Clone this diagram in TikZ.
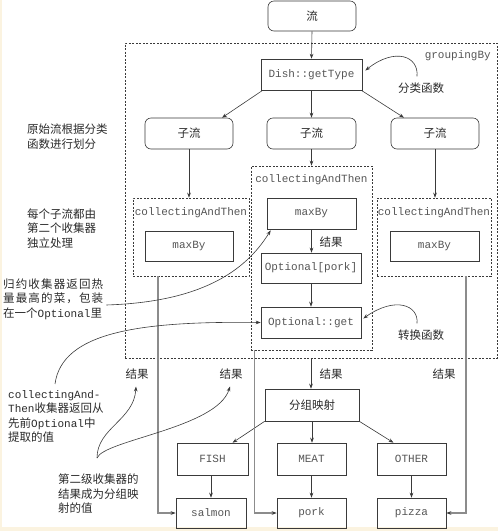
\documentclass[tikz,border=0pt]{standalone}
\usepackage{fontspec}
\setmainfont{Noto Sans CJK SC}
\setmonofont{Liberation Mono}
\usetikzlibrary{arrows.meta,calc}
\definecolor{linec}{HTML}{3A3A3A}
\definecolor{monoc}{HTML}{555555}
\definecolor{txtc}{HTML}{2A2A2A}
\definecolor{creamc}{HTML}{FBF3E0}
\definecolor{grayl}{HTML}{8C8C8C}
\newcommand\monof{\fontsize{11}{13}\selectfont\ttfamily}
\newcommand\cjkf{\fontsize{11.5}{14.6}\selectfont}
\tikzset{
  sqbox/.style={draw=linec, line width=0.6pt, inner sep=0pt, font=\monof, text=monoc},
  rbox/.style={sqbox, rounded corners=6pt, font=\cjkf, text=txtc},
  dbox/.style={draw=linec, dash pattern=on 2pt off 1.5pt, line width=0.6pt, inner sep=0pt},
  arr/.style={-{Stealth[length=5pt,width=3.6pt]}, draw=linec, line width=0.6pt},
  garr/.style={-{Stealth[length=5pt,width=3.6pt,color=linec]}, draw=grayl, line width=1.1pt},
  note/.style={font=\cjkf, text=txtc, align=left, inner sep=0pt},
  mlabel/.style={font=\monof, text=monoc, inner sep=0pt},
}
\begin{document}
\begin{tikzpicture}[x=1pt,y=-1pt]
\useasboundingbox (0,0) rectangle (498,531);
\fill[creamc] (0,0) rectangle (2,531);
\fill[creamc] (0,527) rectangle (498,531);

% outer groupingBy
\node[dbox, minimum width=372, minimum height=315] (grp) at (311,200.5) {};
\node[mlabel, anchor=east] (grplab) at (491,56) {groupingBy};

\node[rbox, minimum width=88, minimum height=30] (liu) at (312,16) {流};
\node[sqbox, minimum width=101, minimum height=31] (dish) at (311.5,74.5) {Dish::getType};
\node[note] (flhs) at (421,88) {分类函数};

\node[rbox, minimum width=88, minimum height=31] (zl1) at (189,133.5) {子流};
\node[rbox, minimum width=89, minimum height=31] (zl2) at (311.5,133.5) {子流};
\node[rbox, minimum width=88, minimum height=31] (zl3) at (435,133.5) {子流};

% collectingAndThen boxes
\node[dbox, minimum width=116, minimum height=78] (cat1) at (191,237) {};
\node[mlabel] (cat1lab) at (191,213) {collectingAndThen};
\node[sqbox, minimum width=88, minimum height=30] (mb1) at (189,246) {maxBy};

\node[dbox, minimum width=121, minimum height=184] (cat2) at (311.5,258) {};
\node[mlabel] (cat2lab) at (311.5,180) {collectingAndThen};
\node[sqbox, minimum width=89, minimum height=31] (mb2) at (311.5,213.5) {maxBy};
\node[note] (jg0) at (331,242) {结果};
\node[sqbox, minimum width=100, minimum height=30] (opk) at (311,268) {Optional[pork]};
\node[sqbox, minimum width=100, minimum height=31] (oget) at (311,322.5) {Optional::get};
\node[note] (zhhs) at (421,335) {转换函数};

\node[dbox, minimum width=114, minimum height=78] (cat3) at (434,237) {};
\node[mlabel] (cat3lab) at (434,213) {collectingAndThen};
\node[sqbox, minimum width=89, minimum height=30] (mb3) at (434.5,246) {maxBy};

% results
\node[note] (jg1) at (137,374) {结果};
\node[note] (jg2) at (231,374) {结果};
\node[note] (jg3) at (331,374) {结果};
\node[note] (jg4) at (444,374) {结果};

\node[sqbox, minimum width=94, minimum height=32, font=\cjkf, text=txtc] (fzys) at (312,405) {分组映射};
\node[sqbox, minimum width=71, minimum height=32] (fish) at (212.5,459) {FISH};
\node[sqbox, minimum width=69, minimum height=32] (meat) at (311.5,459) {MEAT};
\node[sqbox, minimum width=69, minimum height=32] (other) at (411.5,459) {OTHER};
\node[sqbox, minimum width=70, minimum height=30] (salmon) at (211,513) {salmon};
\node[sqbox, minimum width=69, minimum height=30] (pork) at (311.5,513) {pork};
\node[sqbox, minimum width=69, minimum height=30] (pizza) at (411.5,513) {pizza};

% annotations
\node[note, anchor=west] (n1) at (27,136.5) {原始流根据分类\\函数进行划分};
\node[note, anchor=west] (n2) at (27,228.5) {每个子流都由\\第二个收集器\\独立处理};
\node[note, anchor=west] (n3) at (3,299) {\makebox[100pt][s]{归\hfil 约\hfil 收\hfil 集\hfil 器\hfil 返\hfil 回\hfil 热}\\
\makebox[100pt][s]{量\hfil 最\hfil 高\hfil 的\hfil 菜\hfil ，\hfil 包\hfil 装}\\
在一个{\monof Optional}里};
\node[note, anchor=west] (n4) at (8,416.5) {{\monof collectingAnd-}\\{\monof Then}收集器返回从\\先前{\monof Optional}中\\提取的值};
\node[note, anchor=west] (n5) at (58,494) {第二级收集器的\\结果成为分组映\\射的值};

% arrows
\draw[arr] (liu.south) -- (dish.north);
\draw[arr] ($(dish.south west)+(2,0)$) -- ($(zl1.north)+(33,0)$);
\draw[arr] (dish.south) -- (zl2.north);
\draw[arr] ($(dish.south east)+(-1,0)$) -- ($(zl3.north)+(-31,0)$);
\draw[arr] (zl1.south) -- (zl1.south |- cat1.north);
\draw[arr] (zl2.south) -- (zl2.south |- cat2.north);
\draw[arr] (zl3.south) -- (zl3.south |- cat3.north);
\draw[arr] (mb2.south) -- (mb2.south |- opk.north);
\draw[arr] (opk.south) -- (opk.south |- oget.north);
\draw[arr] (grp.south) -- (grp.south |- fzys.north);
\draw[arr] (fzys.south west) -- ($(fish.north)+(20,0)$);
\draw[arr] (fzys.south) -- (fzys.south |- meat.north);
\draw[arr] (fzys.south east) -- ($(other.north)+(-18,0)$);
\draw[arr] (fish.south -| salmon.north) -- (salmon.north);
\draw[arr] (meat.south) -- (meat.south |- pork.north);
\draw[arr] (other.south) -- (other.south |- pizza.north);

% gray result lines
\draw[garr] ($(cat1.south)+(-33,0)$) |- (salmon.west);
\draw[garr] ($(cat2.south west)+(4,0)$) |- (pork.west);
\draw[garr] ($(cat3.south)+(32,0)$) |- (pizza.east);

% curved annotation arrows
\draw[arr] ($(flhs.north)+(-4,-6)$) .. controls (419,56) and (395,47) .. ($(dish.east)+(3,-4)$);
\draw[arr] ($(zhhs.north)+(-4,-6)$) .. controls (419,305) and (395,296) .. ($(oget.east)+(2,-4)$);
\draw[arr] ($(n3.east)+(3,6)$) .. controls (200,302) and (245,272) .. ($(mb2.south west)+(4,1)$);
\draw[arr] ($(n4.north west)+(47,-6)$) .. controls (62,332) and (140,321) .. (oget.west);
\coordinate (src) at (97,458);
\draw[arr] (src) .. controls (97,428) and (134,420) .. ($(jg1.south)+(-1,7)$);
\draw[arr] (src) .. controls (104,440) and (217,428) .. ($(jg2.south)+(-1,7)$);
\end{tikzpicture}
\end{document}
